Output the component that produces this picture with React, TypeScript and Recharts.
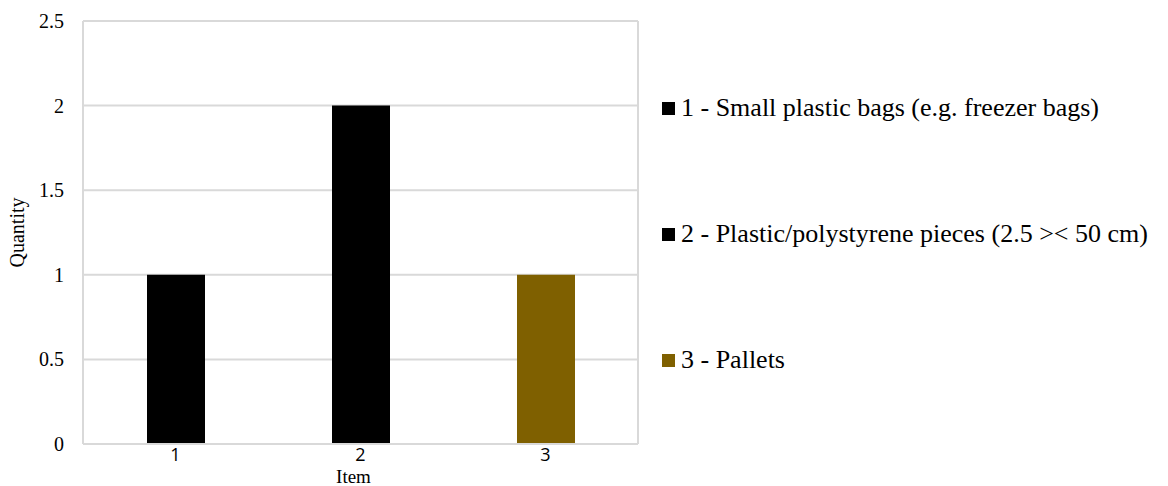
import React from 'react';
import { BarChart, Bar, XAxis, YAxis, CartesianGrid, Cell, Label } from 'recharts';

// Item numbers along the x axis
const items = ['1', '2', '3'];
// Quantity recorded for each item
const quantities = [1, 2, 1];
// Fill per item
const itemColors = ['#000000', '#000000', '#7F6000'];
// Legend descriptions per item
const itemNames = [
  '1 - Small plastic bags (e.g. freezer bags)',
  '2 - Plastic/polystyrene pieces (2.5 >< 50 cm)',
  '3 - Pallets',
];
const yTicks = [0, 0.5, 1, 1.5, 2, 2.5];

const data = items.map((item, i) => ({ item, quantity: quantities[i] }));

const W = 1168;
const H = 486;
const GRID = '#D9D9D9';
const SERIF = "'Liberation Serif', 'Times New Roman', Tinos, serif";
const SANS = "'Open Sans', 'Liberation Sans', sans-serif";

const YTick = ({ x, y, payload }: any) => (
  <text
    x={x}
    y={y}
    dy={7}
    textAnchor="end"
    style={{ fontFamily: SERIF, fontSize: 20, fill: '#000' }}
  >
    {payload.value}
  </text>
);

const XTick = ({ x, y, payload }: any) => (
  <text
    x={x}
    y={y}
    dy={13}
    textAnchor="middle"
    style={{ fontFamily: SANS, fontSize: 18, fill: '#000' }}
  >
    {payload.value}
  </text>
);

export default function App() {
  return (
    <div style={{ position: 'absolute', left: 0, top: 0, width: W, height: H, background: '#fff' }}>
      <BarChart
        width={W}
        height={H}
        data={data}
        margin={{ top: 21, right: 530, bottom: 0, left: 0 }}
        barCategoryGap={0}
      >
        <CartesianGrid
          stroke={GRID}
          strokeWidth={2}
          verticalCoordinatesGenerator={({ offset }: any) => [offset.left, offset.left + offset.width]}
        />
        <XAxis
          dataKey="item"
          axisLine={{ stroke: GRID, strokeWidth: 2 }}
          tickLine={false}
          tickSize={0}
          tickMargin={4}
          height={42}
          tick={<XTick />}
        >
          <Label
            content={({ viewBox }: any) => (
              <text
                x={viewBox.x + viewBox.width / 2 - 7}
                y={viewBox.y + 39}
                textAnchor="middle"
                style={{ fontFamily: SERIF, fontSize: 19, fill: '#000' }}
              >
                Item
              </text>
            )}
          />
        </XAxis>
        <YAxis
          width={83}
          domain={[0, 2.5]}
          ticks={yTicks}
          axisLine={false}
          tickLine={false}
          tickSize={0}
          tickMargin={19}
          tick={<YTick />}
        >
          <Label
            content={({ viewBox }: any) => {
              const cx = 24;
              const cy = viewBox.y + viewBox.height / 2;
              return (
                <text
                  x={cx}
                  y={cy}
                  transform={`rotate(-90 ${cx} ${cy})`}
                  textAnchor="middle"
                  style={{ fontFamily: SERIF, fontSize: 20, fill: '#000' }}
                >
                  Quantity
                </text>
              );
            }}
          />
        </YAxis>
        <Bar dataKey="quantity" barSize={58} isAnimationActive={false}>
          {data.map((d, i) => (
            <Cell key={d.item} fill={itemColors[i]} />
          ))}
        </Bar>
      </BarChart>
      <div style={{ position: 'absolute', left: 662, top: 45 }}>
        {itemNames.map((name, i) => (
          <div
            key={name}
            style={{ display: 'flex', alignItems: 'center', height: 126, whiteSpace: 'nowrap' }}
          >
            <span
              style={{
                display: 'inline-block',
                width: 13,
                height: 13,
                background: itemColors[i],
                marginRight: 6,
              }}
            />
            <span style={{ fontFamily: SERIF, fontSize: 26, color: '#000' }}>{name}</span>
          </div>
        ))}
      </div>
    </div>
  );
}
